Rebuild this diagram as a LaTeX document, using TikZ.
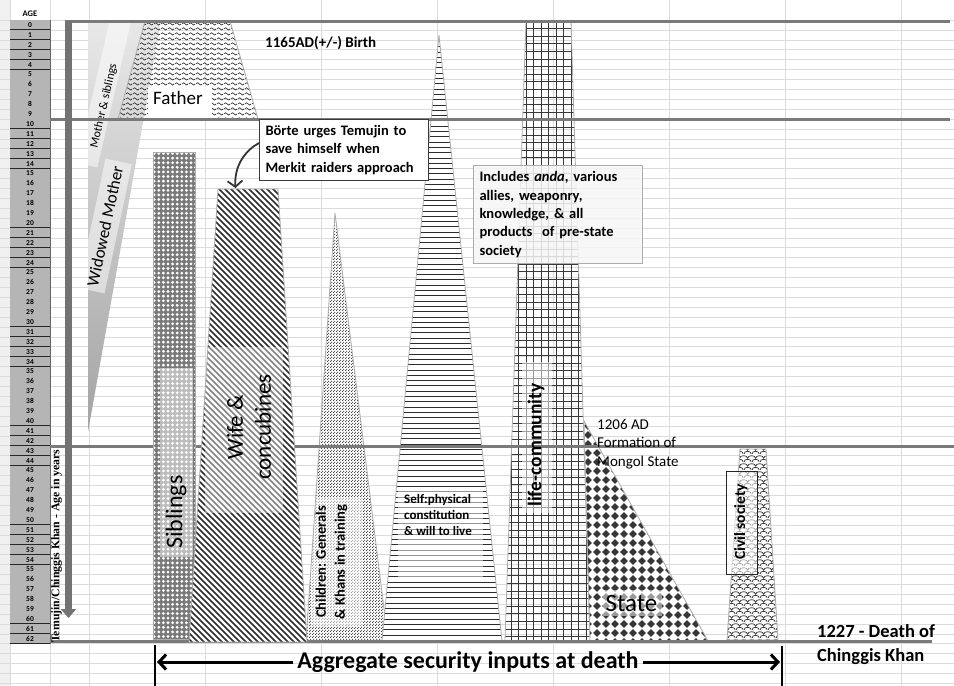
\documentclass[tikz,border=0pt]{standalone}
\usepackage{fontspec}
\setmainfont{Carlito}
\newfontfamily\timesfam{Liberation Serif}
\usetikzlibrary{patterns,arrows.meta}
\newcommand\myfs[2]{\fontsize{#1}{#2}\selectfont}

\pgfdeclarepatternformonly{wavyP}{\pgfpoint{0pt}{0pt}}{\pgfpoint{7pt}{5pt}}{\pgfpoint{7pt}{5pt}}{%
  \pgfsetlinewidth{0.75pt}%
  \pgfpathmoveto{\pgfpoint{0pt}{2.5pt}}%
  \pgfpathcurveto{\pgfpoint{1.1pt}{4.3pt}}{\pgfpoint{2.4pt}{4.3pt}}{\pgfpoint{3.5pt}{2.5pt}}%
  \pgfpathcurveto{\pgfpoint{4.6pt}{0.7pt}}{\pgfpoint{5.9pt}{0.7pt}}{\pgfpoint{7pt}{2.5pt}}%
  \pgfusepath{stroke}}
\pgfdeclarepatternformonly{fineP}{\pgfpoint{0pt}{0pt}}{\pgfpoint{3pt}{3pt}}{\pgfpoint{3pt}{3pt}}{%
  \pgfpathcircle{\pgfpoint{0.75pt}{0.75pt}}{0.75pt}%
  \pgfpathcircle{\pgfpoint{2.25pt}{2.25pt}}{0.75pt}\pgfusepath{fill}}
\pgfdeclarepatternformonly{scaleP}{\pgfpoint{0pt}{0pt}}{\pgfpoint{8pt}{8pt}}{\pgfpoint{8pt}{8pt}}{%
  \pgfsetlinewidth{0.75pt}%
  \pgfpathmoveto{\pgfpoint{0pt}{0pt}}\pgfpathcurveto{\pgfpoint{0pt}{4pt}}{\pgfpoint{8pt}{4pt}}{\pgfpoint{8pt}{0pt}}%
  \pgfpathmoveto{\pgfpoint{-4pt}{4pt}}\pgfpathcurveto{\pgfpoint{-4pt}{8pt}}{\pgfpoint{4pt}{8pt}}{\pgfpoint{4pt}{4pt}}%
  \pgfpathmoveto{\pgfpoint{4pt}{4pt}}\pgfpathcurveto{\pgfpoint{4pt}{8pt}}{\pgfpoint{12pt}{8pt}}{\pgfpoint{12pt}{4pt}}%
  \pgfusepath{stroke}}

\begin{document}
\begin{tikzpicture}[x=1pt,y=-1pt,
  gridline/.style={draw=gray!28, line width=0.6pt},
  ruleln/.style={draw=black!52, line width=3pt},
  shapeedge/.style={draw=gray!65, line width=0.8pt},
  band/.style={fill=white, fill opacity=0.5},
  hatchln/.style={draw=gray!35!black, line width=0.8pt},
  rowlab/.style={font=\bfseries\myfs{7.5}{8}, inner sep=0pt},
  boldlab/.style={font=\bfseries\myfs{14.5}{18.3}, align=left},
  barrow/.style={line width=3pt, -{Straight Barb[length=7pt,width=15pt]}}]
\useasboundingbox (0,0) rectangle (954,686);
\fill[white] (0,0) rectangle (954,686);
\fill[gray!12] (0,0) rectangle (10,686);
% spreadsheet grid
\foreach \k in {0,...,67} {\draw[gridline] (0,20+9.9*\k) -- (954,20+9.9*\k);}
\foreach \x in {10,50,89,205,321,437,553,669,785,901} {\draw[gridline] (\x,0) -- (\x,686);}
% row labels
\foreach \k in {0,...,62} {
  \fill[gray!58] (10,20+9.9*\k) rectangle (50,29.9+9.9*\k);
  \draw[black!85, line width=0.9pt] (10,29.9+9.9*\k) -- (50,29.9+9.9*\k);
  \node[rowlab] (rl\k) at (30,25+9.9*\k) {\k};
}
\draw[black!60, line width=0.6pt] (50,20) -- (50,644);
\node[font=\bfseries\myfs{8.5}{9}] (agehdr) at (30,14) {AGE};

% mother wedge
\def\wedgeP{(88,21) -- (161,21) -- (88,432) -- cycle}
\shade[top color=gray!18, bottom color=gray!72] \wedgeP;
\begin{scope}
  \clip \wedgeP;
  \fill[band, rotate around={77:(104,92)}] (29,81.5) rectangle (179,102.5);
  \fill[band, rotate around={78:(105,226)}] (39,212.5) rectangle (171,239.5);
\end{scope}
\node[rotate=77, font=\myfs{12}{14}] (msib) at (104,106) {Mother \& siblings};
\node[rotate=78, font=\myfs{17}{20}] (wmom) at (105,226) {Widowed Mother};

% father
\path[pattern=wavyP, pattern color=gray!30!black, shapeedge] (145,21) -- (230,21) -- (258,119) -- (118,119) -- cycle;
\fill[white] (148,87) rectangle (212,118);
\node[font=\myfs{19}{22}] (father) at (178,98) {Father};

% children
\def\childP{(335,213) -- (388,641) -- (306,641) -- cycle}
\fill[white] \childP;
\path[pattern=fineP, pattern color=gray!35!black] \childP;
\begin{scope}\clip \childP; \fill[band] (311,498) rectangle (362,626);\end{scope}
\draw[shapeedge] \childP;

% self
\def\selfP{(439,35) -- (502,641) -- (382,641) -- cycle}
\fill[white] \selfP;
\begin{scope}\clip \selfP;
  \foreach \y in {36,41.3,...,641} {\draw[hatchln] (378,\y) -- (506,\y);}
  \fill[band] (398,490) rectangle (483,580);
\end{scope}
\draw[shapeedge] \selfP;

% life-community
\def\lifeP{(526,21) -- (571,21) -- (590,641) -- (505,641) -- cycle}
\begin{scope}\clip \lifeP;
  \foreach \x in {503.5,511,...,593} {\draw[draw=gray!45!black, line width=0.7pt] (\x,20) -- (\x,642);}
  \foreach \y in {21,28.6,...,642} {\draw[draw=gray!45!black, line width=0.7pt] (500,\y) -- (595,\y);}
  \fill[band] (522,362) rectangle (552,513);
\end{scope}
\draw[shapeedge] \lifeP;

% state
\def\stateP{(584,421) -- (708,641) -- (590,641) -- cycle}
\fill[white] \stateP;
\begin{scope}\clip \stateP;
  \foreach \i in {0,...,14} {\foreach \j in {0,...,25} {
    \fill[gray!42!black] (588+9*\i,422+9*\j) -- ++(3.9,3.9) -- ++(-3.9,3.9) -- ++(-3.9,-3.9) -- cycle;
  }}
  \fill[band] (603,590) rectangle (662,616);
\end{scope}
\draw[shapeedge] \stateP;

% civil society
\def\civP{(740,449) -- (766,449) -- (778,640) -- (727,640) -- cycle}
\fill[white] \civP;
\path[pattern=scaleP, pattern color=black!85] \civP;
\draw[shapeedge] \civP;

% thick rules and age arrow
\coordinate (t0a) at (65,21);   \coordinate (t0b) at (950,21);
\coordinate (t10a) at (50,119); \coordinate (t10b) at (950,119);
\coordinate (t43a) at (50,446); \coordinate (t43b) at (954,446);
\coordinate (t62a) at (50,641); \coordinate (t62b) at (932,641);
\draw[ruleln] (t0a) -- (t0b);
\draw[ruleln] (t10a) -- (t10b);
\draw[ruleln] (t43a) -- (t43b);
\draw[ruleln] (t62a) -- (t62b);
\coordinate (agetop) at (68.5,21);
\coordinate (agebot) at (68.5,618);
\draw[line width=6.5pt, draw=black!55, -{Triangle[length=9pt,width=15pt]}] (agetop) -- (agebot);
\node[rotate=90, anchor=west, font=\timesfam\bfseries\myfs{11.8}{13}, inner sep=0] (temu) at (56.5,643) {Temujin/Chinggis Khan - Age in years};

% siblings
\def\sibP{(153,152) rectangle (195,639)}
\fill[black!52] \sibP;
\begin{scope}\clip \sibP;
  \foreach \i in {0,...,9} {\foreach \j in {0,...,106} {
    \fill[white] (154.2+4.6*\i,153.5+4.6*\j) circle (1.55);
  }}
\end{scope}
\fill[band] (160,368) rectangle (193,557);
\draw[shapeedge] \sibP;
\node[rotate=90, font=\myfs{24}{28}] (sibl) at (176,512) {Siblings};

% wife
\def\wifeP{(218,189) -- (278,189) -- (307,642) -- (189,642) -- cycle}
\fill[white] \wifeP;
\begin{scope}\clip \wifeP;
  \foreach \c in {-462,-456,...,126} {\draw[draw=gray!35!black, line width=1.5pt] (\c+180,180) -- (\c+650,650);}
  \fill[band, fill opacity=0.42] (205,347) rectangle (283,513);
\end{scope}
\draw[shapeedge] \wifeP;
\node[rotate=90, align=center, font=\myfs{23}{28}] (wife) at (249,427) {Wife \&\\concubines};

% texts on shapes
\node[rotate=90, align=center, font=\bfseries\myfs{14.5}{19}] (child) at (331.5,562) {Children: Generals\\\& Khans in training};
\node[anchor=north west, align=left, inner sep=0, font=\bfseries\myfs{13}{16}] (self) at (404,494) {Self:physical\\constitution\\\& will to live};
\node[rotate=90, font=\bfseries\myfs{19.5}{22}] (life) at (536,445) {life-community};
\node[font=\myfs{25}{28}] (state) at (631.5,603) {State};
\fill[white, fill opacity=0.55] (726,471) rectangle (757,574);
\draw[black!85, line width=0.7pt] (726,471) rectangle (757,574);
\node[rotate=90, font=\bfseries\myfs{15.5}{18}] (civil) at (741,522) {Civil society};

% annotations
\node[anchor=west, inner sep=0, font=\bfseries\myfs{15}{18}] (birth) at (265,43) {1165AD(+/-) Birth};
\node[draw=gray!45!black, line width=1pt, fill=white, anchor=north west, boldlab,
      text width=157, inner xsep=6, inner ysep=0, minimum height=61] (borte) at (259,119)
      {Börte urges Temujin to\\save himself when\\Merkit raiders approach};
\coordinate (bstart) at (259,143);
\coordinate (bend) at (235.5,188);
\draw[line width=1.8pt, draw=black!80, -{Straight Barb[length=6pt,width=15pt]}] (bstart) .. controls (246,150) and (234,165) .. (bend);
\node[draw=gray!65, line width=1pt, fill=gray!7, fill opacity=0.85, text opacity=1, anchor=north west, boldlab,
      text width=157, inner xsep=6, inner ysep=0, minimum height=98] (incl) at (473,165)
      {Includes \textit{anda}, various\\allies, weaponry,\\knowledge, \& all\\products~ of pre-state\\society};
\node[anchor=north west, align=left, inner sep=0, font=\myfs{15}{18.5}] (form) at (597,419) {1206 AD\\Formation of\\Mongol State};
\node[anchor=north west, align=left, inner sep=0, font=\bfseries\myfs{18.5}{24}] (death) at (817,624) {1227 - Death of\\Chinggis Khan};

% aggregate arrow
\node[font=\bfseries\myfs{24}{28}, inner sep=4pt] (agg) at (468,662) {Aggregate security inputs at death};
\coordinate (lbt) at (155,645); \coordinate (lbb) at (155,686);
\coordinate (rbt) at (782,646); \coordinate (rbb) at (782,686);
\coordinate (lt) at (157,662); \coordinate (rt) at (780,662);
\draw[line width=2.5pt] (lbt) -- (lbb);
\draw[line width=2.5pt] (rbt) -- (rbb);
\draw[barrow] (agg.west) -- (lt);
\draw[barrow] (agg.east) -- (rt);
\end{tikzpicture}
\end{document}
